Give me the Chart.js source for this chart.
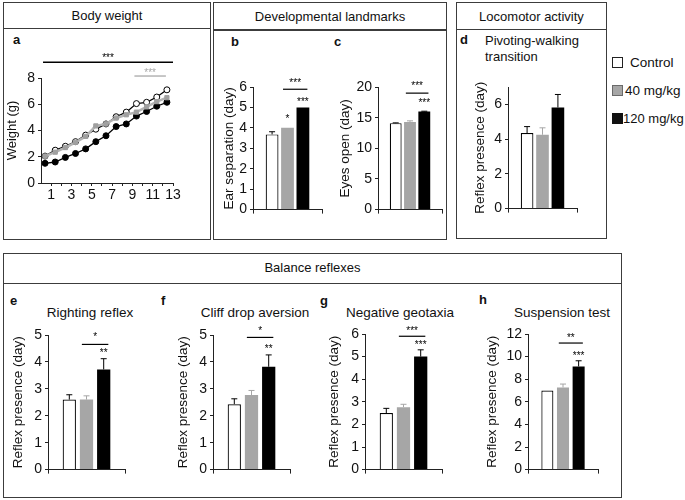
<!DOCTYPE html>
<html><head><meta charset="utf-8">
<script src="https://cdn.jsdelivr.net/npm/chart.js@4"></script>
<style>
body{margin:0;width:685px;height:500px;position:relative;background:#fff;font-family:'Liberation Sans',Arial,Helvetica,sans-serif;color:#111;overflow:hidden}
.box{position:absolute;border:1.5px solid #3c3c3c;box-sizing:border-box}
.sep{position:absolute;height:1.5px;background:#3c3c3c}
.t{position:absolute;white-space:nowrap;line-height:16px;height:16px}
.c{text-align:center}
.b{font-weight:bold}
.cv{position:absolute}
.lg{position:absolute;width:11px;height:11px;box-sizing:border-box}
</style>
</head><body>

<div class="box" style="left:3px;top:2px;width:208px;height:238px"></div>
<div class="sep" style="left:3px;top:27.5px;width:208px"></div>
<div class="t c" style="left:3px;top:8px;width:208px;font-size:13px">Body weight</div>

<div class="box" style="left:213px;top:2px;width:234px;height:238px"></div>
<div class="sep" style="left:213px;top:29px;width:234px"></div>
<div class="t c" style="left:213px;top:9px;width:234px;font-size:13px">Developmental landmarks</div>

<div class="box" style="left:456px;top:2px;width:151px;height:237px"></div>
<div class="sep" style="left:456px;top:28.5px;width:151px"></div>
<div class="t c" style="left:456px;top:9px;width:151px;font-size:13px">Locomotor activity</div>

<div class="box" style="left:3px;top:253px;width:619px;height:245px"></div>
<div class="sep" style="left:3px;top:282.5px;width:619px"></div>
<div class="t c" style="left:3px;top:260px;width:619px;font-size:13px">Balance reflexes</div>

<div class="t b" style="left:13px;top:32px;font-size:13px">a</div>
<div class="t b" style="left:231px;top:34px;font-size:13px">b</div>
<div class="t b" style="left:334px;top:34px;font-size:13px">c</div>
<div class="t b" style="left:460px;top:32px;font-size:13px">d</div>
<div class="t b" style="left:10px;top:293px;font-size:13px">e</div>
<div class="t b" style="left:161px;top:293px;font-size:13px">f</div>
<div class="t b" style="left:320px;top:293px;font-size:13px">g</div>
<div class="t b" style="left:479px;top:292px;font-size:13px">h</div>

<div class="t" style="left:485px;top:33px;font-size:13px">Pivoting-walking</div>
<div class="t" style="left:485px;top:49px;font-size:13px">transition</div>

<div class="t c" style="left:30px;top:305px;width:120px;font-size:13.5px">Righting reflex</div>
<div class="t c" style="left:195px;top:305px;width:120px;font-size:13.5px">Cliff drop aversion</div>
<div class="t c" style="left:340px;top:305px;width:120px;font-size:13.5px">Negative geotaxia</div>
<div class="t c" style="left:502px;top:305px;width:120px;font-size:13.5px">Suspension test</div>

<div class="lg" style="left:612px;top:57px;background:#fff;border:1.3px solid #222"></div>
<div class="lg" style="left:612px;top:85px;background:#a6a6a6;border:1.3px solid #6a6a6a"></div>
<div class="lg" style="left:612px;top:113px;background:#111;border:1.3px solid #111"></div>
<div class="t" style="left:630px;top:55px;font-size:13.5px">Control</div>
<div class="t" style="left:625px;top:83px;font-size:13.5px">40 mg/kg</div>
<div class="t" style="left:623px;top:111px;font-size:13px">120 mg/kg</div>

<script>
// ---------------- DATA ----------------
const groups = ['Control', '40 mg/kg', '120 mg/kg'];

// a: body weight (g) per postnatal day
const days = [1,2,3,4,5,6,7,8,9,10,11,12,13];
const weightControl = [2.05,2.5,2.8,3.15,3.65,4.1,4.5,5.05,5.4,6.05,6.15,6.55,7.1];
const weight40      = [2.05,2.35,2.7,3.1,3.55,4.35,4.5,4.95,5.2,5.4,5.8,6.2,6.5];
const weight120     = [1.5,1.6,1.95,2.25,2.6,3.15,3.6,4.3,4.5,5.1,5.45,5.85,6.15];
const weightYTicks  = [0,1,2,3,4,5,6,7,8];
const weightXTicks  = [1,2,3,4,5,6,7,8,9,10,11,12,13];
const pointShift = -0.6; // points sit a little left of the day labels in the reference

// b-h: means and SEM (Control, 40 mg/kg, 120 mg/kg)
const earSep      = [3.68, 4.0, 5.0];   const earSepErr      = [0.13, 0.02, 0];
const eyesOpen    = [14.1, 14.3, 16.0]; const eyesOpenErr    = [0.05, 0.18, 0.05];
const pivoting    = [4.35, 4.25, 5.82]; const pivotingErr    = [0.37, 0.4, 0.75];
const righting    = [2.6, 2.6, 3.72];   const rightingErr    = [0.18, 0.14, 0.4];
const cliffDrop   = [2.43, 2.77, 3.82]; const cliffDropErr   = [0.2, 0.17, 0.44];
const geotaxia    = [2.5, 2.76, 5.0];   const geotaxiaErr    = [0.21, 0.13, 0.3];
const suspension  = [7.0, 7.27, 9.13];  const suspensionErr  = [0.02, 0.3, 0.5];

// significance marks (value levels)
const earSepSig     = {line:5.89, lineText:'***', lineTextY:6.34, black:['***',5.42], gray:['*',4.55]};
const eyesOpenSig   = {line:19.0, lineText:'***', lineTextY:20.6, black:['***',17.9]};
const rightingSig   = {line:4.65, lineText:'*',   lineTextY:5.02, black:['**',4.43]};
const cliffDropSig  = {line:4.91, lineText:'*',   lineTextY:5.24, black:['**',4.6]};
const geotaxiaSig   = {line:5.9,  lineText:'***', lineTextY:6.26, black:['***',5.63]};
const suspensionSig = {line:11.2, lineText:'**',  lineTextY:11.9, black:['***',10.3]};
const weightSig = [
  {x0:0.2, x1:13, y:9.2, text:'***', ty:9.7, color:'#000'},
  {x0:9.2, x1:12.3, y:8.15, text:'***', ty:8.6, color:'#a8a8a8'}
];

// ---------------- STYLE / LAYOUT ----------------
const FONT = "'Liberation Sans', Arial, Helvetica, sans-serif";
Chart.defaults.font.family = FONT;
Chart.defaults.color = '#111';
const AX = '#222';
const STAR = 10;
const fills = ['#ffffff', '#a6a6a6', '#000000'];
const borders = ['#000000', '#a6a6a6', '#000000'];
const bws = [1.2, 0, 0];
const errColors = ['#000', '#a6a6a6', '#000'];

const layout = {
  a:{l:41,t:78,r:173,b:183,titleX:12.5,padT:38,padR:17,H:22,tf:13},
  b:{l:253,t:87,r:322,b:211,titleX:229,padT:37,padR:10,H:10,tf:13.5},
  c:{l:378,t:87,r:442,b:211,titleX:345.5,padT:37,padR:4,H:10,tf:13.5},
  d:{l:508,t:87,r:577,b:210,titleX:480.5,padT:20,padR:10,H:10,tf:13.5},
  e:{l:48,t:335,r:125,b:471,titleX:18,padT:15,padR:10,H:10,tf:13.5},
  f:{l:213,t:335,r:290,b:471,titleX:183.5,padT:15,padR:10,H:10,tf:13.5},
  g:{l:365,t:334,r:442,b:471,titleX:334,padT:20,padR:10,H:10,tf:13.5},
  h:{l:528,t:334,r:598,b:471,titleX:492,padT:15,padR:10,H:10,tf:13.5}
};

function place(L){
  const left = Math.round(L.titleX - L.tf*0.6);
  const top = L.t - L.padT, right = L.r + L.padR, bottom = L.b + L.H;
  const div = document.createElement('div');
  div.className = 'cv';
  div.style.left = left+'px'; div.style.top = top+'px';
  div.style.width = (right-left)+'px'; div.style.height = (bottom-top)+'px';
  const c = document.createElement('canvas');
  div.appendChild(c); document.body.appendChild(div);
  return {canvas:c, W:L.l-left};
}

function yAxis(max, step, title, W, tickSize, titleSize){
  return {
    type:'linear', min:0, max:max,
    ticks:{stepSize:step, font:{size:tickSize}, color:'#111', padding:3},
    grid:{drawOnChartArea:false, drawTicks:true, tickLength:3, color:AX, lineWidth:1},
    border:{display:true, color:AX, width:1},
    title:{display:true, text:title, font:{size:titleSize}, color:'#111', padding:{top:0,bottom:0}},
    afterFit(s){ s.width = W; }
  };
}

function starText(ctx, text, x, yCenter, size, color){
  ctx.save();
  ctx.font = size+'px '+FONT;
  ctx.fillStyle = color; ctx.textAlign = 'center'; ctx.textBaseline = 'alphabetic';
  ctx.fillText(text, x, yCenter + size*0.58);
  ctx.restore();
}

function makeDecor(sig){
  return {
    id:'decor',
    afterDatasetsDraw(chart){
      const ctx = chart.ctx, y = chart.scales.y;
      const bars = chart.data.datasets.map((d,i)=>chart.getDatasetMeta(i).data[0]);
      chart.data.datasets.forEach((ds,i)=>{
        const bar = bars[i], e = ds.errors[0];
        if (e <= 0.03) return;
        const top = y.getPixelForValue(ds.data[0] + e);
        ctx.save();
        ctx.strokeStyle = ds.errColor; ctx.lineWidth = 1;
        ctx.beginPath();
        ctx.moveTo(bar.x, bar.y); ctx.lineTo(bar.x, top);
        ctx.moveTo(bar.x-3, top); ctx.lineTo(bar.x+3, top);
        ctx.stroke(); ctx.restore();
      });
      if (!sig) return;
      const g = bars[1], k = bars[2];
      const x0 = g.x - g.width*0.35, x1 = k.x + k.width*0.35;
      const ly = y.getPixelForValue(sig.line);
      ctx.save(); ctx.strokeStyle = '#000'; ctx.lineWidth = 1.2;
      ctx.beginPath(); ctx.moveTo(x0, ly); ctx.lineTo(x1, ly); ctx.stroke(); ctx.restore();
      starText(ctx, sig.lineText, (x0+x1)/2, y.getPixelForValue(sig.lineTextY), STAR, '#000');
      if (sig.black) starText(ctx, sig.black[0], k.x, y.getPixelForValue(sig.black[1]), STAR, '#000');
      if (sig.gray) starText(ctx, sig.gray[0], g.x, y.getPixelForValue(sig.gray[1]), STAR, '#000');
    }
  };
}

function barChart(key, vals, errs, yMax, step, title, sig, barPct){
  const L = layout[key];
  const p = place(L);
  new Chart(p.canvas, {
    type:'bar',
    data:{
      labels:[''],
      datasets: groups.map((g,i)=>({
        label:g, data:[vals[i]], errors:[errs[i]], errColor:errColors[i],
        backgroundColor:fills[i], borderColor:borders[i], borderWidth:bws[i],
        barPercentage:barPct, categoryPercentage:0.67
      }))
    },
    options:{
      responsive:true, maintainAspectRatio:false, animation:false,
      layout:{padding:{top:L.padT, right:L.padR, left:0, bottom:0}},
      plugins:{legend:{display:false}, tooltip:{enabled:false}},
      scales:{
        x:{type:'category', offset:true,
           grid:{offset:true, drawOnChartArea:false, drawTicks:true, tickLength:4, color:AX},
           border:{display:true, color:AX, width:1},
           ticks:{display:false},
           afterFit(s){ s.height = L.H; }},
        y:yAxis(yMax, step, title, p.W, 14, L.tf)
      }
    },
    plugins:[makeDecor(sig)]
  });
}

// ---------------- CHART a ----------------
(function(){
  const L = layout.a;
  const p = place(L);
  const pts = arr => days.map((d,i)=>({x:d+pointShift, y:arr[i]}));
  const sigPlugin = {
    id:'wsig',
    afterDatasetsDraw(chart){
      const ctx = chart.ctx, xs = chart.scales.x, ys = chart.scales.y;
      weightSig.forEach(s=>{
        const py = ys.getPixelForValue(s.y);
        ctx.save(); ctx.strokeStyle = s.color; ctx.lineWidth = 1.3;
        ctx.beginPath(); ctx.moveTo(xs.getPixelForValue(s.x0), py); ctx.lineTo(xs.getPixelForValue(s.x1), py); ctx.stroke();
        ctx.restore();
        starText(ctx, s.text, (xs.getPixelForValue(s.x0)+xs.getPixelForValue(s.x1))/2, ys.getPixelForValue(s.ty), STAR, s.color);
      });
    }
  };
  new Chart(p.canvas, {
    type:'line',
    data:{datasets:[
      {label:groups[1], data:pts(weight40), borderColor:'#b4b4b4', borderWidth:2.5, pointStyle:'rect',
       pointRadius:3, pointBackgroundColor:'#a0a0a0', pointBorderColor:'#a0a0a0', pointBorderWidth:1, tension:0, order:0},
      {label:groups[0], data:pts(weightControl), borderColor:'#000', borderWidth:1.3, pointStyle:'circle',
       pointRadius:3, pointBackgroundColor:'#fff', pointBorderColor:'#000', pointBorderWidth:1, tension:0, order:1},
      {label:groups[2], data:pts(weight120), borderColor:'#000', borderWidth:1.3, pointStyle:'circle',
       pointRadius:3, pointBackgroundColor:'#000', pointBorderColor:'#000', pointBorderWidth:1, tension:0, order:2}
    ]},
    options:{
      responsive:true, maintainAspectRatio:false, animation:false,
      layout:{padding:{top:L.padT, right:L.padR, left:0, bottom:0}},
      plugins:{legend:{display:false}, tooltip:{enabled:false}},
      scales:{
        x:{type:'linear', min:0, max:13,
           afterBuildTicks(s){ s.ticks = weightXTicks.map(v=>({value:v})); },
           ticks:{font:{size:14}, color:'#111', padding:1, maxRotation:0, autoSkip:false,
                  callback:(v)=> (v % 2 === 1) ? String(v) : ''},
           grid:{drawOnChartArea:false, drawTicks:true, tickLength:3, color:AX},
           border:{display:true, color:AX, width:1},
           afterFit(s){ s.height = L.H; }},
        y:Object.assign(yAxis(8, 1, 'Weight (g)', p.W, 14, L.tf),
           {afterBuildTicks(s){ s.ticks = weightYTicks.map(v=>({value:v})); }})
      }
    },
    plugins:[sigPlugin]
  });
})();

// ---------------- CHARTS b-h ----------------
barChart('b', earSep, earSepErr, 6, 1, 'Ear separation (day)', earSepSig, 0.83);
barChart('c', eyesOpen, eyesOpenErr, 20, 5, 'Eyes open (day)', eyesOpenSig, 0.83);
barChart('d', pivoting, pivotingErr, 7, 1, 'Reflex presence (day)', null, 0.82);
barChart('e', righting, rightingErr, 5, 1, 'Reflex presence (day)', rightingSig, 0.77);
barChart('f', cliffDrop, cliffDropErr, 5, 1, 'Reflex presence (day)', cliffDropSig, 0.77);
barChart('g', geotaxia, geotaxiaErr, 6, 1, 'Reflex presence (day)', geotaxiaSig, 0.77);
barChart('h', suspension, suspensionErr, 12, 2, 'Reflex presence (day)', suspensionSig, 0.77);
</script>
</body></html>
